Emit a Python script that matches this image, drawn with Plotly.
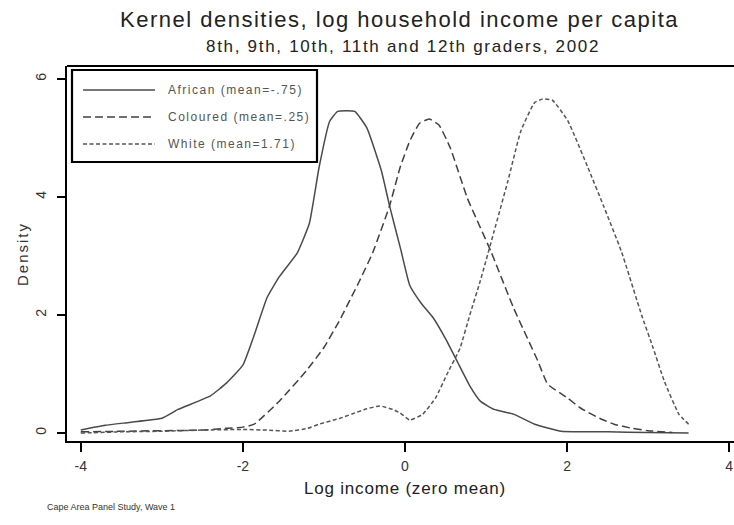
import plotly.graph_objects as go

# Kernel density estimates of log household income per capita (zero mean)
african_x = [-4.0, -3.7, -3.4, -3.0, -2.8, -2.4, -2.2, -2.0, -1.85, -1.7, -1.55, -1.33,
             -1.18, -1.06, -0.93, -0.83, -0.62, -0.47, -0.29, -0.19, -0.05, 0.06, 0.2,
             0.35, 0.5, 0.65, 0.8, 0.93, 1.1, 1.34, 1.6, 1.93, 2.5, 3.0, 3.5]
african_y = [0.05, 0.13, 0.18, 0.25, 0.4, 0.63, 0.85, 1.15, 1.7, 2.3, 2.65, 3.05,
             3.55, 4.5, 5.28, 5.45, 5.45, 5.17, 4.44, 3.85, 3.1, 2.5, 2.2,
             1.95, 1.6, 1.2, 0.8, 0.54, 0.4, 0.32, 0.15, 0.03, 0.02, 0.01, 0.0]

coloured_x = [-4.0, -3.5, -3.0, -2.5, -2.2, -2.0, -1.86, -1.55, -1.22, -1.0, -0.81, -0.56,
              -0.4, -0.19, -0.06, 0.06, 0.18, 0.3, 0.42, 0.56, 0.77, 1.06, 1.34, 1.64,
              1.76, 2.0, 2.17, 2.4, 2.58, 2.8, 3.0, 3.3]
coloured_y = [0.02, 0.03, 0.04, 0.05, 0.08, 0.1, 0.15, 0.54, 1.05, 1.45, 1.9, 2.58,
              3.05, 3.85, 4.5, 4.95, 5.25, 5.32, 5.22, 4.83, 3.98, 3.08, 2.12, 1.22,
              0.83, 0.6, 0.42, 0.25, 0.15, 0.08, 0.04, 0.01]

white_x = [-4.0, -3.5, -3.0, -2.5, -2.0, -1.7, -1.43, -1.2, -1.06, -0.8, -0.6, -0.47,
           -0.31, -0.15, -0.06, 0.06, 0.22, 0.38, 0.52, 0.68, 0.8, 0.93, 1.1, 1.27,
           1.43, 1.6, 1.7, 1.82, 2.01, 2.26, 2.45, 2.67, 2.92, 3.06, 3.2, 3.38, 3.5]
white_y = [0.0, 0.02, 0.03, 0.05, 0.06, 0.05, 0.03, 0.08, 0.15, 0.25, 0.35, 0.41,
           0.46, 0.4, 0.34, 0.22, 0.32, 0.6, 1.0, 1.44, 2.0, 2.58, 3.42, 4.27,
           5.12, 5.6, 5.66, 5.64, 5.29, 4.49, 3.85, 3.08, 2.0, 1.45, 0.88, 0.32, 0.15]

series_names = ["African (mean=-.75)", "Coloured (mean=.25)", "White (mean=1.71)"]
series_dash = ["solid", "8px,4px", "4px,2.5px"]
series_color = ["#4a4a4a", "#404040", "#555555"]

x_ticks = [-4, -2, 0, 2, 4]
y_ticks = [0, 2, 4, 6]

W, H = 734, 525
L, R, T, B = 67, 0, 66, 84
PW, PH = W - L - R, H - T - B


def px(x):
    return (x - L) / PW


def py(y):
    return (H - B - y) / PH


def spaced(text, spacing):
    return f'<span style="letter-spacing:{spacing}px">{text}</span>'


fig = go.Figure()
for xs, ys, name, dash, col in zip([african_x, coloured_x, white_x],
                                   [african_y, coloured_y, white_y],
                                   series_names, series_dash, series_color):
    fig.add_trace(go.Scatter(x=xs, y=ys, mode="lines", name=name, showlegend=False,
                             line=dict(color=col, width=1.5, dash=dash, shape="spline",
                                       smoothing=0.4)))

font = "Liberation Sans, Arial, sans-serif"

shapes = [
    # top border of the plot frame
    dict(type="line", xref="paper", yref="paper", x0=0, x1=1, y0=1, y1=1,
         line=dict(color="black", width=2)),
    # legend box
    dict(type="rect", xref="paper", yref="paper", x0=px(72), x1=px(317), y0=py(70), y1=py(162),
         line=dict(color="black", width=2.2), fillcolor="white", layer="above"),
]
annotations = []
row_y = [90, 117, 144]
for ry, name, dash, col in zip(row_y, series_names, series_dash, series_color):
    shapes.append(dict(type="line", xref="paper", yref="paper", x0=px(83), x1=px(155),
                       y0=py(ry), y1=py(ry), layer="above",
                       line=dict(color=col, width=1.6, dash=dash)))
    annotations.append(dict(text=spaced(name, 1.5), xref="paper", yref="paper", x=px(166), y=py(ry),
                            xanchor="left", yanchor="middle", showarrow=False,
                            font=dict(family=font, size=12, color="#555555")))

annotations += [
    dict(text=spaced("Kernel densities, log household income per capita", 1.5),
         xref="paper", yref="paper",
         x=px(399), y=py(19), xanchor="center", yanchor="middle", showarrow=False,
         font=dict(family=font, size=22, color="#222222")),
    dict(text=spaced("8th, 9th, 10th, 11th and 12th graders, 2002", 1.7),
         xref="paper", yref="paper",
         x=px(403), y=py(46), xanchor="center", yanchor="middle", showarrow=False,
         font=dict(family=font, size=17, color="#222222")),
    dict(text=spaced("Log income (zero mean)", 0.8), xref="paper", yref="paper",
         x=px(405), y=py(488), xanchor="center", yanchor="middle", showarrow=False,
         font=dict(family=font, size=17, color="#222222")),
    dict(text=spaced("Density", 2), xref="paper", yref="paper", textangle=-90,
         x=px(22), y=py(254), xanchor="center", yanchor="middle", showarrow=False,
         font=dict(family=font, size=15, color="#333333")),
    dict(text="Cape Area Panel Study, Wave 1", xref="paper", yref="paper",
         x=px(45), y=py(507), xanchor="left", yanchor="middle", showarrow=False,
         font=dict(family=font, size=9, color="#333333")),
]

fig.update_layout(
    width=W, height=H,
    margin=dict(l=L, r=R, t=T, b=B, pad=0),
    paper_bgcolor="white", plot_bgcolor="white",
    showlegend=False,
    shapes=shapes, annotations=annotations,
    xaxis=dict(range=[-4.17, 4.06], tickvals=x_ticks, ticktext=[str(v) for v in x_ticks],
               showgrid=False, zeroline=False, showline=True, linecolor="black", linewidth=2,
               ticks="outside", ticklen=9, tickwidth=1.5, tickcolor="black",
               ticklabelstandoff=2,
               tickfont=dict(family=font, size=14, color="#333333")),
    yaxis=dict(range=[-0.135, 6.22], tickvals=y_ticks, ticktext=[str(v) for v in y_ticks],
               tickangle=-90, showgrid=False, zeroline=False, showline=True, linecolor="black",
               linewidth=2, ticks="outside", ticklen=8, tickwidth=1.5, tickcolor="black",
               ticklabelstandoff=5,
               tickfont=dict(family=font, size=14, color="#333333")),
)

fig.write_html("out.html")
